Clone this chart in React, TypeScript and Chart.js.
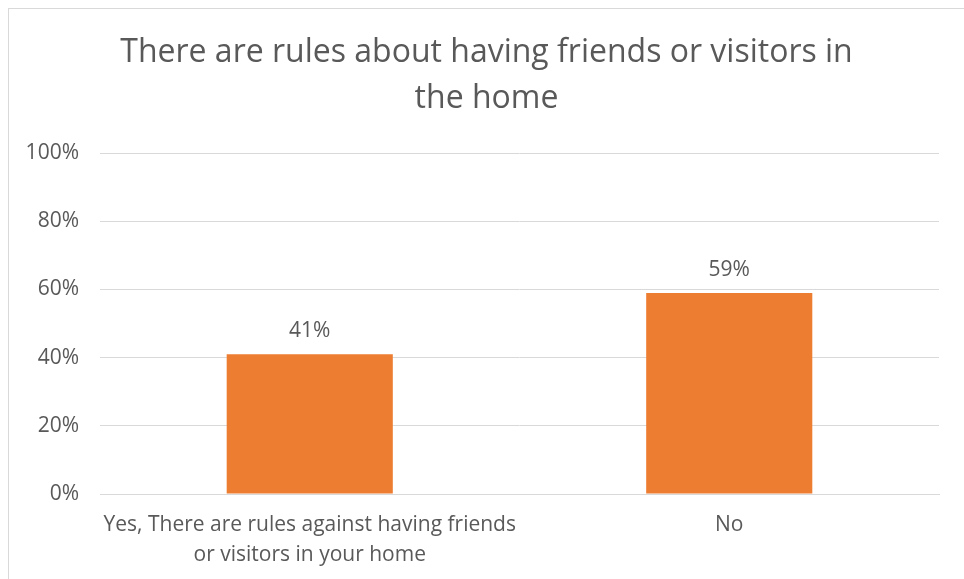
import React, { useEffect, useRef } from "react";
import { Chart, registerables } from "chart.js";

Chart.register(...registerables);

const titleLines = ["There are rules about having friends or visitors in", "the home"];
const categories: string[][] = [
  ["Yes, There are rules against having friends", "or visitors in your home"],
  ["No"],
];
const values = [41, 59];
const dataLabels = ["41%", "59%"];
const yTickValues = [0, 20, 40, 60, 80, 100];
const yTickLabels = ["0%", "20%", "40%", "60%", "80%", "100%"];

const FONT = "'Open Sans', 'Noto Sans', sans-serif";
const TEXT = "#595959";
const GRID = "#D9D9D9";
const BAR = "#ED7D31";

const dataLabelPlugin = {
  id: "dataLabelPlugin",
  afterDatasetsDraw(chart: any) {
    const ctx = chart.ctx;
    const meta = chart.getDatasetMeta(0);
    ctx.save();
    ctx.font = `21px ${FONT}`;
    ctx.fillStyle = TEXT;
    ctx.textAlign = "center";
    ctx.textBaseline = "alphabetic";
    meta.data.forEach((el: any, i: number) => {
      ctx.fillText(dataLabels[i], el.x, el.y - 17);
    });
    ctx.restore();
  },
};

export default function App() {
  const ref = useRef<HTMLCanvasElement | null>(null);
  useEffect(() => {
    if (!ref.current) return;
    const chart = new Chart(ref.current, {
      type: "bar",
      data: {
        labels: categories,
        datasets: [
          {
            data: values,
            backgroundColor: BAR,
            borderWidth: 0,
            barPercentage: 0.396,
            categoryPercentage: 1,
            yAxisID: "y",
          },
        ],
      },
      options: {
        animation: false,
        responsive: false,
        maintainAspectRatio: false,
        layout: { padding: { top: 0, left: 0, right: 0, bottom: 0 } },
        plugins: {
          legend: { display: false },
          tooltip: { enabled: false },
          title: {
            display: true,
            text: titleLines,
            color: TEXT,
            font: { family: FONT, size: 32, weight: "normal", lineHeight: 1.44 },
            padding: { top: 21, bottom: 31 },
          },
        },
        scales: {
          x: {
            grid: { display: false, drawTicks: false },
            border: { display: true, color: GRID, width: 1 },
            ticks: {
              color: TEXT,
              font: { family: FONT, size: 21, lineHeight: 1.43 },
              padding: 16,
              maxRotation: 0,
              autoSkip: false,
            },
            afterFit(scale: any) {
              scale.height = 85;
            },
          },
          y: {
            position: "left",
            min: 0,
            max: 100,
            afterBuildTicks(scale: any) {
              scale.ticks = yTickValues.map((v) => ({ value: v }));
            },
            grid: { color: GRID, lineWidth: 1, drawTicks: false },
            border: { display: false },
            ticks: {
              color: TEXT,
              font: { family: FONT, size: 21 },
              padding: 21,
              callback: (v: any) => yTickLabels[yTickValues.indexOf(Number(v))],
            },
            afterFit(scale: any) {
              scale.width = 91;
            },
          },
          yRight: {
            type: "linear",
            position: "right",
            min: 0,
            max: 100,
            grid: { display: false, drawTicks: false },
            border: { display: false },
            ticks: { display: false },
            afterFit(scale: any) {
              scale.width = 25;
            },
          },
        },
      },
      plugins: [dataLabelPlugin],
    });
    return () => chart.destroy();
  }, []);

  return (
    <div
      style={{
        position: "fixed",
        left: 8,
        top: 8,
        width: 956,
        height: 571,
        borderLeft: "1px solid #D9D9D9",
        borderTop: "1px solid #D9D9D9",
        background: "#fff",
      }}
    >
      <canvas ref={ref} width={955} height={570} style={{ display: "block", width: 955, height: 570 }} />
    </div>
  );
}
